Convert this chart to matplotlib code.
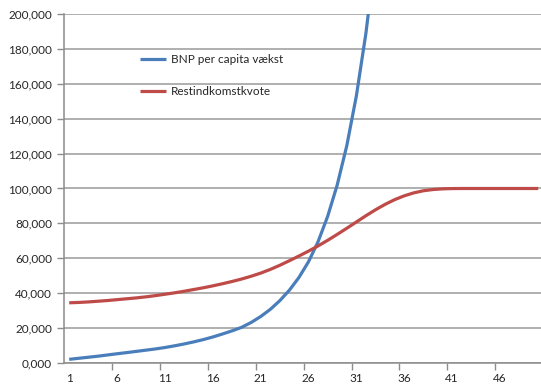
import matplotlib
matplotlib.use("Agg")
import matplotlib.pyplot as plt
from matplotlib.ticker import FuncFormatter, FixedLocator

periods = list(range(1, 51))

# BNP per capita vaekst (last point runs off the top of the axis)
bnp = [2100, 2700, 3300, 3900, 4600, 5300, 5950, 6650, 7350, 8050,
       8870, 9830, 10900, 12090, 13400, 14900, 16600, 18400, 20400, 23200,
       26600, 30700, 35700, 41700, 49000, 58000, 69500, 84000, 102000, 124500,
       153000, 189000, 234000]

restind = [34500, 34700, 35000, 35400, 35800, 36300, 36800, 37300, 37900, 38600,
           39400, 40200, 41100, 42100, 43100, 44200, 45400, 46700, 48100, 49700,
           51500, 53600, 56000, 58600, 61300, 64100, 67100, 70300, 73700, 77200,
           80800, 84400, 87800, 90900, 93600, 95800, 97500, 98700, 99400, 99800,
           99950, 100000, 100000, 100000, 100000, 100000, 100000, 100000, 100000, 100000]

xlabels = [1, 6, 11, 16, 21, 26, 31, 36, 41, 46]
yticks = list(range(0, 200001, 20000))

plt.rcParams['font.family'] = ['Lato', 'DejaVu Sans']

fig = plt.figure(figsize=(5.41, 3.86), dpi=100)
ax = fig.add_axes([64.4 / 541, 23 / 386, 478.6 / 541, 349 / 386])

ax.plot(periods[:len(bnp)], bnp, color='#4A7EBB', lw=2.3, label='BNP per capita vækst',
        solid_capstyle='butt', solid_joinstyle='round')
ax.plot(periods, restind, color='#BE4B48', lw=2.3, label='Restindkomstkvote',
        solid_capstyle='butt', solid_joinstyle='round')

ax.set_xlim(0.5, 50.5)
ax.set_ylim(0, 200000)

ax.set_yticks(yticks)
ax.yaxis.set_major_formatter(FuncFormatter(lambda v, p: '0,000' if v == 0 else f'{int(v):,}'))
ax.set_xticks(xlabels)
ax.set_xticklabels([str(v) for v in xlabels])
ax.xaxis.set_minor_locator(FixedLocator([x + 4.5 for x in xlabels]))

ax.grid(axis='y', color='#9a9a9a', lw=1.1)
ax.set_axisbelow(True)
for s in ['top', 'right']:
    ax.spines[s].set_visible(False)
for s in ['left', 'bottom']:
    ax.spines[s].set_color('#8c8c8c')
    ax.spines[s].set_linewidth(1.1)

ax.tick_params(axis='y', length=5, width=1, color='#8c8c8c', pad=4,
               labelsize=8.5, labelcolor='#262626')
ax.tick_params(axis='x', which='major', length=0, pad=7,
               labelsize=8.5, labelcolor='#262626')
ax.tick_params(axis='x', which='minor', length=5, width=1, color='#8c8c8c')

ax.legend(loc='upper left', bbox_to_anchor=(0.135, 0.915), frameon=False,
          handlelength=2.2, handletextpad=0.45, labelspacing=1.75, fontsize=8.5,
          labelcolor='#262626')

fig.savefig('out.png', dpi=100)
